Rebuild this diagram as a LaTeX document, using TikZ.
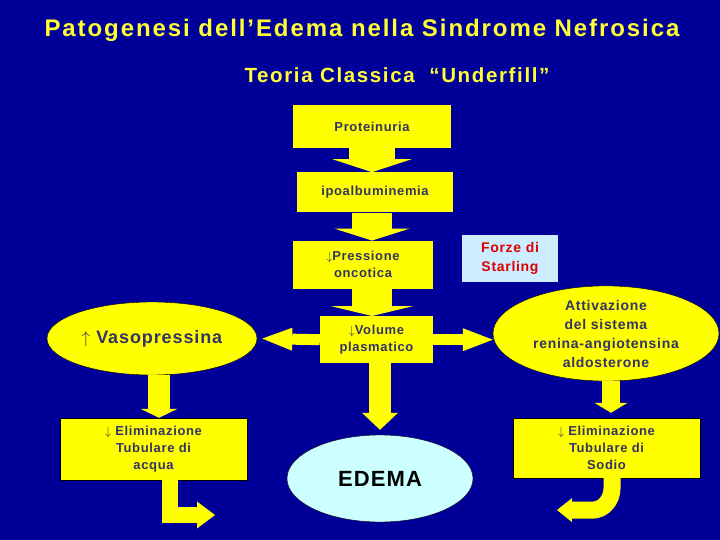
\documentclass[tikz,border=0pt]{standalone}
\usepackage{fontspec}
\setmainfont[LetterSpace=5]{Liberation Sans}
\newfontfamily\widefont[LetterSpace=8]{Liberation Sans}
\usepackage{xcolor}
\usepackage{tikz}
\usetikzlibrary{positioning,arrows.meta,shapes.geometric,calc}

\definecolor{slide}{RGB}{0,0,153}
\definecolor{boxyellow}{RGB}{255,255,0}
\definecolor{ink}{RGB}{51,51,102}
\definecolor{titleyellow}{RGB}{255,255,51}
\definecolor{starlingblue}{RGB}{204,236,255}
\definecolor{starlingred}{RGB}{220,0,0}
\definecolor{edemacyan}{RGB}{204,255,255}

\begin{document}
\begin{tikzpicture}[
x=1pt,y=-1pt,
box/.style={
rectangle,fill=boxyellow,inner sep=0pt,
align=center,text=ink,
font=\bfseries\fontsize{13}{17}\selectfont
},
oval/.style={
ellipse,fill=boxyellow,draw=black,thin,inner sep=0pt,
align=center,text=ink
},
bigarrow/.style n args={3}{
draw=boxyellow,line width=#1,
-{Triangle[width=#2,length=#3,line width=0pt]}
}
]

% BACKGROUND
\useasboundingbox (0,0) rectangle (720,540);
\fill[slide] (0,0) rectangle (720,540);

% TITLES
\node[text=titleyellow,font=\widefont\bfseries\fontsize{24}{28}\selectfont] (title) at (362,30)
{Patogenesi dell’Edema nella Sindrome Nefrosica};
\node[text=titleyellow,font=\widefont\bfseries\fontsize{20.5}{24}\selectfont] (subtitle) at (397,75)
{Teoria Classica \ “Underfill”};

% CENTRE COLUMN
\node[box,minimum width=158pt,minimum height=43pt] (prot) at (372,126.5)
{Proteinuria};
\node[box,minimum width=156pt,minimum height=40pt,below=24pt of prot,xshift=3pt] (ipo)
{ipoalbuminemia};
\node[box,minimum width=140pt,minimum height=48pt,below=28pt of ipo,xshift=-12pt] (press)
{$\downarrow$Pressione\\oncotica};
\node[box,minimum width=113pt,minimum height=47pt,below=27pt of press,xshift=13.5pt] (volume)
{$\downarrow$Volume\\plasmatico};

\node[rectangle,fill=starlingblue,inner sep=0pt,minimum width=96pt,minimum height=47pt,
text=starlingred,align=center,font=\bfseries\fontsize{14}{19}\selectfont] (starling) at (510,258.5)
{Forze di\\Starling};

% SIDES
\node[oval,minimum width=210pt,minimum height=73pt,font=\bfseries\fontsize{18}{22}\selectfont] (vaso) at (152,338.5)
{$\uparrow$ Vasopressina};
\node[oval,minimum width=226pt,minimum height=93pt,font=\bfseries\fontsize{14}{19}\selectfont] (raas) at (606,333.5)
{Attivazione\\del sistema\\renina-angiotensina\\aldosterone};

\node[box,draw=black,thin,minimum width=187pt,minimum height=62pt] (acqua) at (153.5,449)
{$\downarrow$ Eliminazione\\Tubulare di\\acqua};
\node[box,draw=black,thin,minimum width=187pt,minimum height=60pt] (sodio) at (606.5,448)
{$\downarrow$ Eliminazione\\Tubulare di\\Sodio};

\node[ellipse,fill=edemacyan,draw=black,thin,inner sep=0pt,minimum width=186pt,minimum height=87pt,
font=\bfseries\fontsize{22}{26}\selectfont] (edema) at (380,478.5)
{EDEMA};

\coordinate (acquaend) at (215,515);
\coordinate (sodioend) at (557,510);

% ARROWS
\draw[bigarrow={46pt}{79pt}{13pt}] (prot.south) -- (prot.south |- ipo.north);
\draw[bigarrow={40pt}{75pt}{12pt}] (prot.south |- ipo.south) -- (prot.south |- press.north);
\draw[bigarrow={40pt}{83pt}{10pt}] (prot.south |- press.south) -- (prot.south |- volume.north);
\draw[bigarrow={22pt}{36pt}{17pt},shorten >=5pt] (volume.south -| edema.north) -- (edema.north);
\draw[bigarrow={11pt}{23pt}{30pt},shorten >=5pt] (volume.west) -- (vaso.east);
\draw[bigarrow={11pt}{23pt}{30pt}] (volume.east) -- (volume.east -| raas.west);
\draw[bigarrow={22pt}{37pt}{9pt}] ($(vaso.south)+(7,0)$) -- ($(acqua.north)+(5.5,0)$);
\draw[bigarrow={18pt}{33pt}{10pt},shorten >=5pt] ($(raas.south)+(5,0)$) -- ($(sodio.north)+(4.5,0)$);
\draw[bigarrow={16pt}{27pt}{18pt}] ($(acqua.south)+(16.5,0)$) |- (acquaend);
\draw[bigarrow={17pt}{24pt}{15pt}] ($(sodio.south)+(5.5,0)$) -- ++(0,10)
to[out=-90,in=0] ++(-20,22) -- (sodioend);

\end{tikzpicture}
\end{document}
